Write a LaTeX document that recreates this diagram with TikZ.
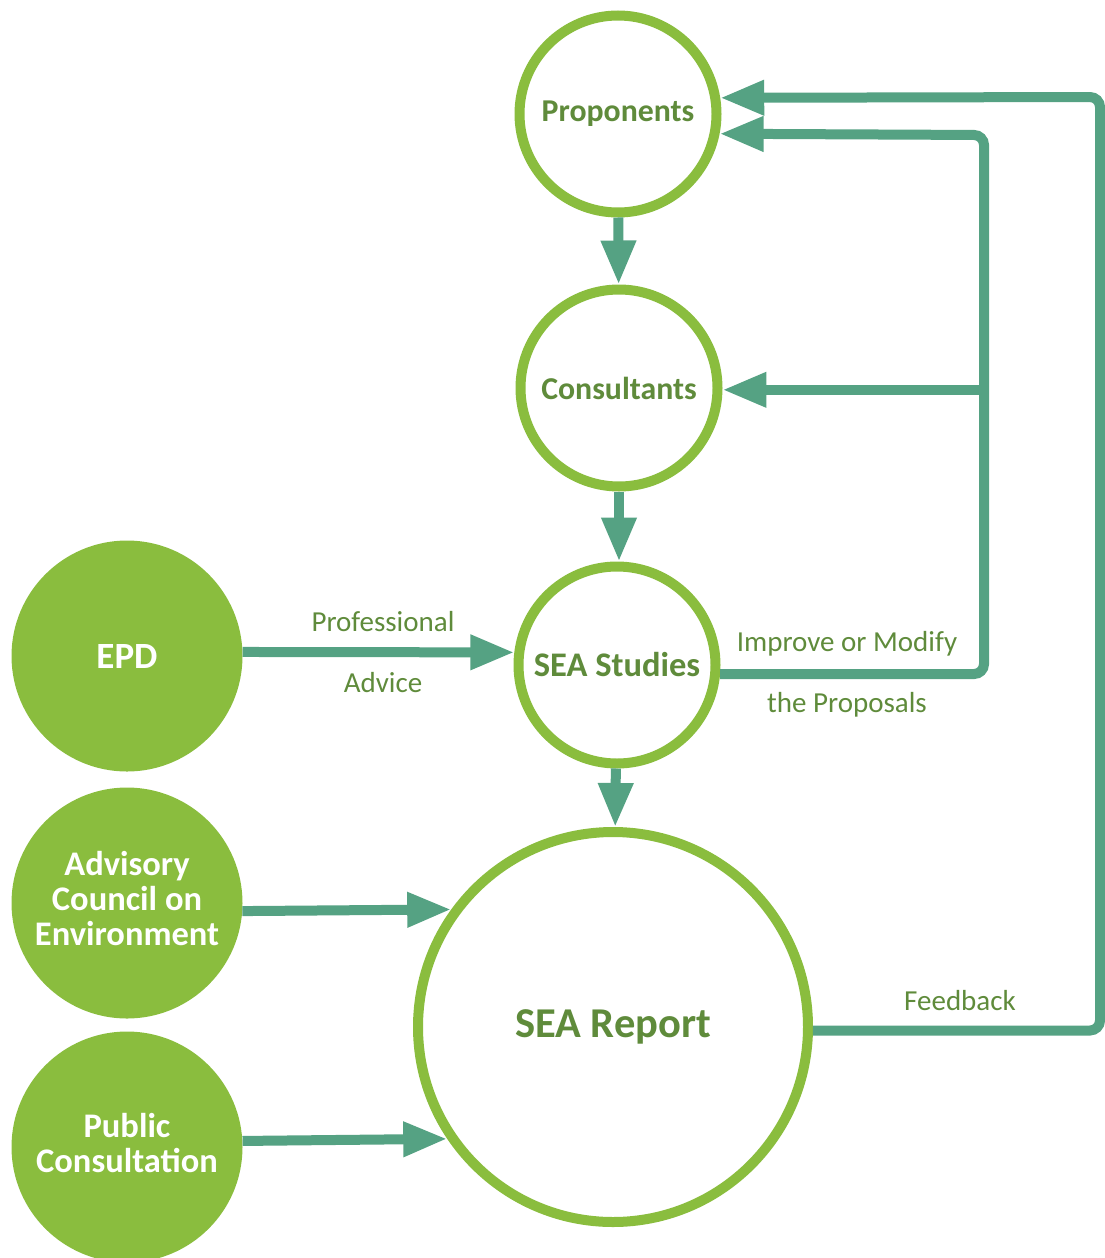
\documentclass[tikz,border=0pt]{standalone}
\usepackage{fontspec}
\setmainfont{Carlito}
\usetikzlibrary{arrows.meta}
\definecolor{leaf}{HTML}{8ABD3E}
\definecolor{flow}{HTML}{55A283}
\definecolor{olive}{HTML}{5F8B3B}
\newcommand{\liftlines}[1]{\raisebox{4pt}[\height][\depth]{\parbox{200pt}{\centering #1}}}
\begin{document}
\begin{tikzpicture}[x=1pt,y=-1pt,
  ring/.style={circle, draw=leaf, line width=10pt, fill=white, inner sep=0pt,
    minimum size=197pt, text=olive, font=\bfseries\fontsize{31.8}{35}\selectfont},
  disc/.style={circle, fill=leaf, inner sep=0pt, minimum size=231pt,
    text=white, align=center, font=\bfseries\fontsize{34.5}{35}\selectfont},
  conn/.style={draw=flow, line width=10pt, -{Triangle[length=44pt,width=33pt]}},
  lbl/.style={text=olive, font=\fontsize{29}{32}\selectfont}]
\useasboundingbox (0,0) rectangle (1105,1258);

% process chain
\node[ring] (prop) at (618,114) {Proponents};
\node[ring] (cons) at (619,388) {Consultants};
\node[ring, font=\bfseries\fontsize{34.5}{38}\selectfont] (stud) at (617,665) {SEA Studies};
\node[ring, minimum size=390pt, font=\bfseries\fontsize{42.5}{46}\selectfont] (report) at (613,1027) {SEA Report};

% inputs
\node[disc, font=\bfseries\fontsize{37}{40}\selectfont] (epd) at (127,656) {EPD};
\node[disc] (acoe) at (127,903) {\liftlines{Advisory\\Council on\\Environment}};
\node[disc] (pub) at (127,1147) {\liftlines{Public\\Consultation}};

% downward flow
\draw[conn] (prop) -- (cons);
\draw[conn] (cons.south) -- (cons.south |- stud.north);
\draw[conn] (stud) -- (report);

% inputs to studies and report
\draw[conn] (epd.2) -- (stud.173);
\draw[conn] (acoe.-4) -- (report.144.6);
\draw[conn] (pub.3) -- (report.214.7);

% improvement loop
\coordinate (loop) at (984,135);
\draw[conn, rounded corners=10pt] (stud.-5.5) -| (loop) -- (prop.-11.8);
\draw[conn] (loop |- cons.-1) -- (cons.-1);

% feedback loop
\coordinate (fb) at (1100,97);
\draw[conn, rounded corners=10pt] (report.-1) -| (fb) -- (prop.9.5);

% labels
\node[lbl] (l1) at (383,622) {Professional};
\node[lbl] (l2) at (383,683) {Advice};
\node[lbl] (l3) at (847,644) {Improve or Modify};
\node[lbl] (l4) at (847,705) {the Proposals};
\node[lbl] (l5) at (960,1001) {Feedback};
\end{tikzpicture}
\end{document}
